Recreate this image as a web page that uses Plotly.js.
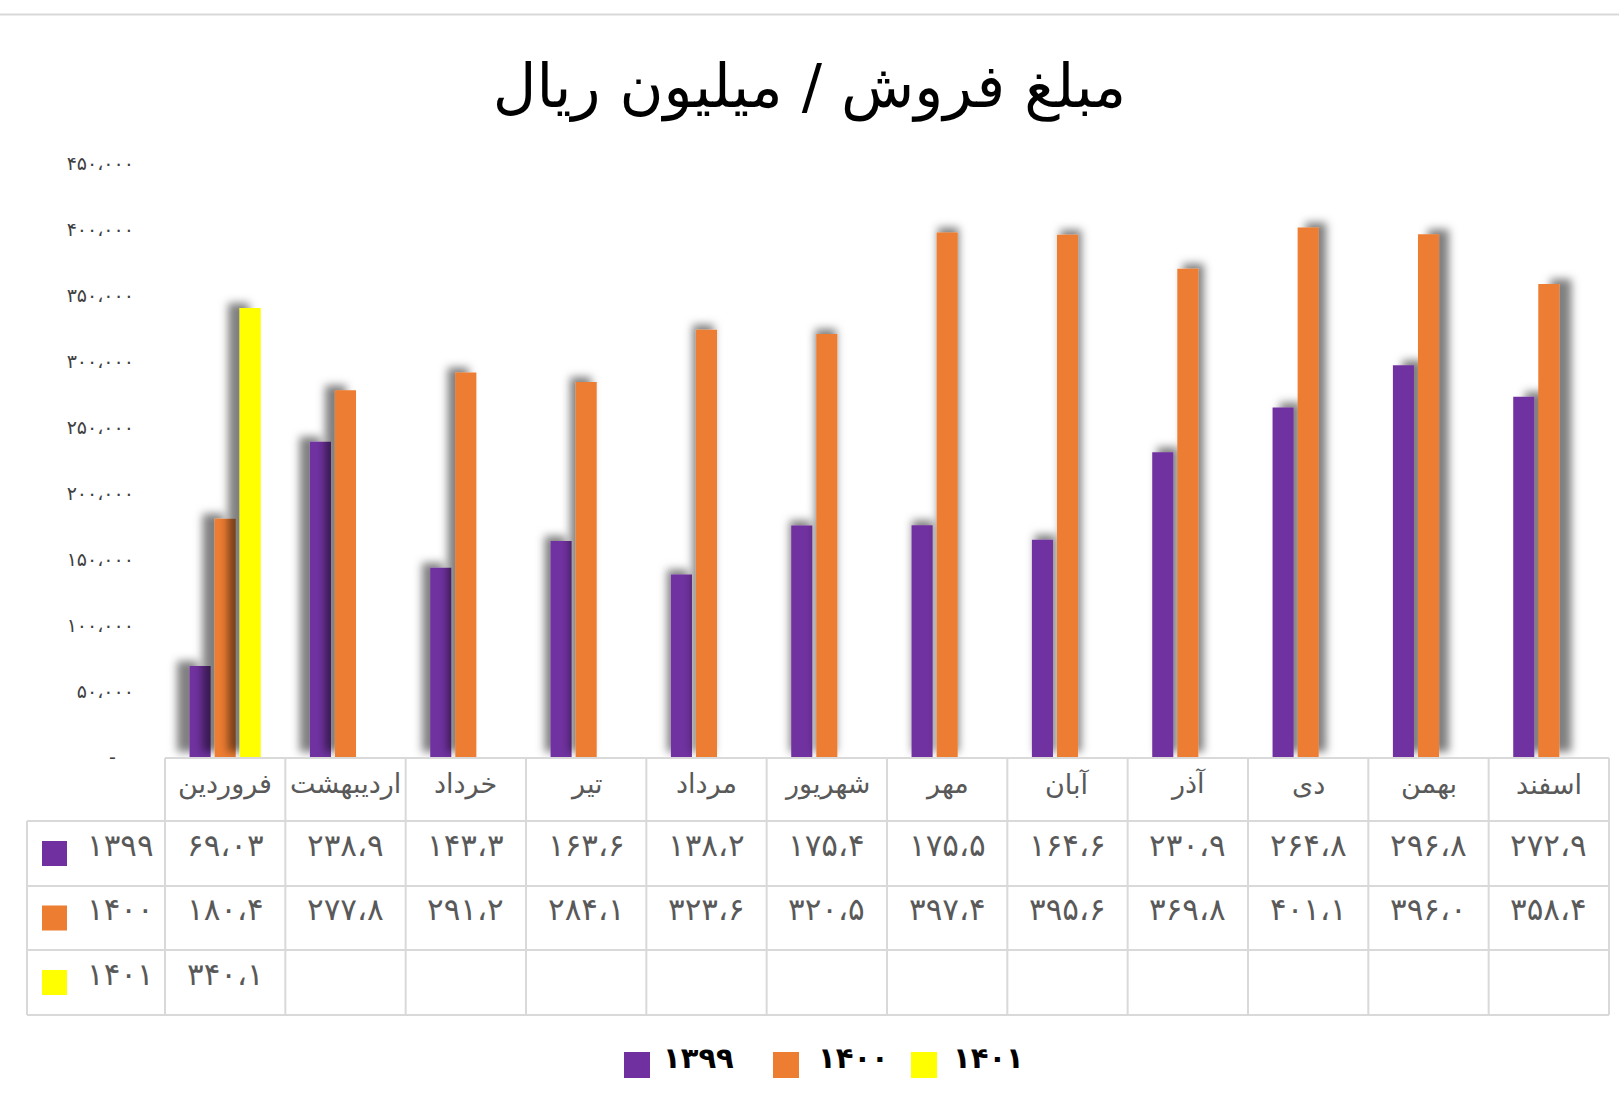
<!DOCTYPE html>
<html>
<head>
<meta charset="utf-8">
<script src="https://cdn.plot.ly/plotly-3.0.1.min.js"></script>
<style>
  html, body { margin: 0; padding: 0; background: #ffffff; }
  #chart { width: 1619px; height: 1114px; }
</style>
</head>
<body>
<div id="chart"></div>
<script>
// ---------------- DATA ----------------
const months = ['فروردین', 'اردیبهشت', 'خرداد', 'تیر', 'مرداد', 'شهریور', 'مهر', 'آبان', 'آذر', 'دی', 'بهمن', 'اسفند'];
const seriesNames = ['۱۳۹۹', '۱۴۰۰', '۱۴۰۱'];
const sales1399 = [69.03, 238.9, 143.3, 163.6, 138.2, 175.4, 175.5, 164.6, 230.9, 264.8, 296.8, 272.9];
const sales1400 = [180.4, 277.8, 291.2, 284.1, 323.6, 320.5, 397.4, 395.6, 369.8, 401.1, 396.0, 358.4];
const sales1401 = [340.1, null, null, null, null, null, null, null, null, null, null, null];
const yTickVals = [0, 50, 100, 150, 200, 250, 300, 350, 400, 450];
const yTickText = ['-\u00a0\u00a0\u00a0', '۵۰،۰۰۰', '۱۰۰،۰۰۰', '۱۵۰،۰۰۰', '۲۰۰،۰۰۰', '۲۵۰،۰۰۰', '۳۰۰،۰۰۰', '۳۵۰،۰۰۰', '۴۰۰،۰۰۰', '۴۵۰،۰۰۰'];
const titleText = 'مبلغ فروش / میلیون ریال';

// ---------------- STYLE ----------------
const colors = ['#7030A0', '#ED7D31', '#FFFF00'];
const FONT = 'DejaVu Sans, sans-serif';
const gridColor = '#d9d9d9';
const textGray = '#595959';

// plot area in pixels (layout)
const PL = 165, PR = 1609, PT = 163, PB = 757;
const W = PR - PL, H = PB - PT;
const px2x = px => (px - PL) / W;
const py2y = py => (PB - py) / H;

const toFa = s => String(s).replace(/[0-9]/g, d => '۰۱۲۳۴۵۶۷۸۹'[d]).replace(/[.,]/g, '،');
const fmt = v => { let s = String(v); if (s.indexOf('.') < 0) s = v.toFixed(1); return toFa(s); };

const series = [sales1399, sales1400, sales1401];

const traces = series.map((vals, i) => ({
  type: 'bar',
  x: months,
  y: vals,
  name: seriesNames[i],
  marker: { color: colors[i], line: { width: 0 } },
  hoverinfo: 'x+y+name'
}));

// table geometry (pixels)
const rowLines = [758, 821, 886, 950, 1015];
const shapes = [];
const annotations = [];

// top border line of the chart area
shapes.push({ type: 'line', xref: 'paper', yref: 'paper', x0: px2x(0), x1: px2x(1619), y0: py2y(14.5), y1: py2y(14.5), line: { color: gridColor, width: 2 } });

// horizontal table lines
shapes.push({ type: 'line', xref: 'paper', yref: 'paper', x0: 0, x1: 1, y0: py2y(rowLines[0]), y1: py2y(rowLines[0]), line: { color: gridColor, width: 2 } });
for (let r = 1; r < rowLines.length; r++) {
  shapes.push({ type: 'line', xref: 'paper', yref: 'paper', x0: px2x(27), x1: 1, y0: py2y(rowLines[r]), y1: py2y(rowLines[r]), line: { color: gridColor, width: 2 } });
}
// vertical table lines
for (let k = 0; k <= months.length; k++) {
  const xp = k / months.length;
  shapes.push({ type: 'line', xref: 'paper', yref: 'paper', x0: xp, x1: xp, y0: py2y(rowLines[0]), y1: py2y(rowLines[4]), line: { color: gridColor, width: 2 } });
}
shapes.push({ type: 'line', xref: 'paper', yref: 'paper', x0: px2x(27), x1: px2x(27), y0: py2y(rowLines[1]), y1: py2y(rowLines[4]), line: { color: gridColor, width: 2 } });

// header row: month names
months.forEach(m => {
  annotations.push({ x: m, xref: 'x', y: py2y(784), yref: 'paper', text: m, showarrow: false, xanchor: 'center', yanchor: 'middle', font: { family: FONT, size: 27, color: textGray } });
});

// data rows
series.forEach((vals, r) => {
  const top = rowLines[r + 1], bot = rowLines[r + 2];
  const cy = (top + bot) / 2;
  // legend key square
  shapes.push({ type: 'rect', xref: 'paper', yref: 'paper', x0: px2x(42), x1: px2x(67), y0: py2y(cy - 12.5), y1: py2y(cy + 12.5), fillcolor: colors[r], line: { width: 0 } });
  annotations.push({ x: px2x(156), xref: 'paper', y: py2y(cy - 9), yref: 'paper', text: seriesNames[r], showarrow: false, xanchor: 'right', yanchor: 'middle', font: { family: FONT, size: 31, color: textGray } });
  vals.forEach((v, i) => {
    if (v === null) return;
    annotations.push({ x: months[i], xref: 'x', y: py2y(cy - 9), yref: 'paper', text: fmt(v), showarrow: false, xanchor: 'center', yanchor: 'middle', font: { family: FONT, size: 31, color: textGray } });
  });
});

// bottom legend
const legSq = [624, 773, 911];
const legTx = [661, 816, 951];
seriesNames.forEach((n, i) => {
  shapes.push({ type: 'rect', xref: 'paper', yref: 'paper', x0: px2x(legSq[i]), x1: px2x(legSq[i] + 26), y0: py2y(1052), y1: py2y(1078), fillcolor: colors[i], line: { width: 0 } });
  annotations.push({ x: px2x(legTx[i]), xref: 'paper', y: py2y(1058), yref: 'paper', text: '<b>' + n + '</b>', showarrow: false, xanchor: 'left', yanchor: 'middle', font: { family: FONT, size: 29, color: '#000000' } });
});

const layout = {
  width: 1619,
  height: 1114,
  margin: { l: PL, r: 1619 - PR, t: PT, b: 1114 - PB, pad: 0 },
  paper_bgcolor: '#ffffff',
  plot_bgcolor: '#ffffff',
  showlegend: false,
  barmode: 'group',
  bargap: 0.375,
  bargroupgap: 0.16,
  title: {
    text: titleText,
    font: { family: FONT, size: 60, color: '#000000' },
    x: 809.5 / 1619, xref: 'container', xanchor: 'center',
    y: 1 - 86 / 1114, yref: 'container', yanchor: 'middle'
  },
  xaxis: {
    type: 'category',
    range: [-0.5, 11.5],
    showticklabels: false,
    showgrid: false,
    zeroline: false,
    showline: false,
    ticks: ''
  },
  yaxis: {
    range: [0, 450],
    tickmode: 'array',
    tickvals: yTickVals,
    ticktext: yTickText,
    showgrid: false,
    zeroline: false,
    showline: false,
    ticks: '',
    ticklabelstandoff: 30,
    tickfont: { family: FONT, size: 19, color: '#404040' }
  },
  shapes: shapes,
  annotations: annotations,
  font: { family: FONT }
};

Plotly.newPlot('chart', traces, layout, { displayModeBar: false, staticPlot: true }).then(gd => {
  // soft perspective shadows behind the bars
  const svg = gd.querySelector('svg.main-svg');
  const ns = 'http://www.w3.org/2000/svg';
  let defs = svg.querySelector('defs');
  if (!defs) { defs = document.createElementNS(ns, 'defs'); svg.insertBefore(defs, svg.firstChild); }
  const center = PL + W / 2;
  const paths = gd.querySelectorAll('.barlayer .point path');
  paths.forEach((p, idx) => {
    const bb = p.getBBox();
    if (bb.width === 0 || bb.height === 0) return;
    const cx = PL + bb.x + bb.width / 2;
    const dx = (cx - center) / 55;
    const id = 'barshadow' + idx;
    const f = document.createElementNS(ns, 'filter');
    f.setAttribute('id', id);
    f.setAttribute('x', '-1.5'); f.setAttribute('width', '4');
    f.setAttribute('y', '-0.3'); f.setAttribute('height', '1.6');
    const ds = document.createElementNS(ns, 'feDropShadow');
    ds.setAttribute('dx', dx.toFixed(2));
    ds.setAttribute('dy', '-5');
    ds.setAttribute('stdDeviation', '4');
    ds.setAttribute('flood-color', '#000000');
    ds.setAttribute('flood-opacity', '0.5');
    f.appendChild(ds);
    defs.appendChild(f);
    p.setAttribute('filter', 'url(#' + id + ')');
  });
});
</script>
</body>
</html>
